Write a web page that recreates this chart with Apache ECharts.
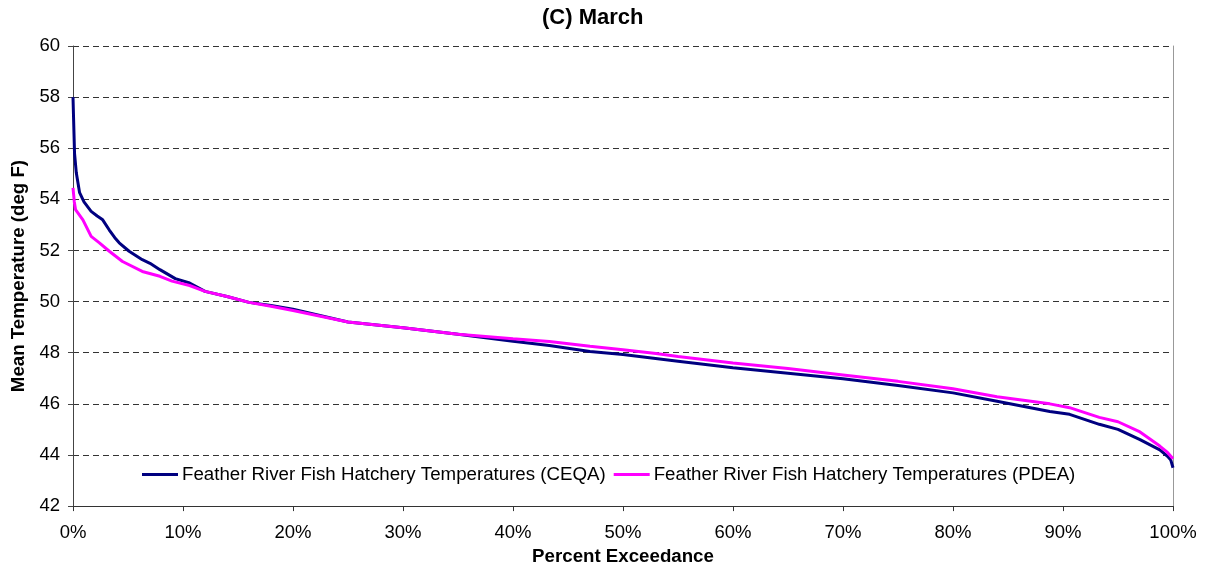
<!DOCTYPE html>
<html>
<head>
<meta charset="utf-8">
<script src="https://cdn.jsdelivr.net/npm/echarts@6/dist/echarts.min.js"></script>
<style>
    html, body { margin: 0; padding: 0; background: #fff; }
    #chart { width: 1206px; height: 571px; }
</style>
</head>
<body>
<div id="chart"></div>
<script>
// percent exceedance / mean temperature (deg F)
var ceqaPct = [0, 0.05, 0.14, 0.3, 0.6, 1.0, 1.65, 2.2, 2.7, 3.3, 3.8, 4.2, 5.1, 6.3, 7.0, 7.9, 9.3, 10.6, 12, 14, 16, 18, 20, 25, 30, 35, 40, 43.3, 47, 50, 55, 60, 65, 70, 75, 80, 84, 88.8, 90.6, 93.3, 95, 97, 98.8, 99.5, 99.8, 100];
var ceqaTemp = [58.0, 57.2, 55.8, 55.04, 54.26, 53.9, 53.53, 53.35, 53.2, 52.8, 52.5, 52.3, 51.97, 51.64, 51.5, 51.25, 50.9, 50.73, 50.4, 50.2, 49.97, 49.85, 49.7, 49.2, 48.98, 48.72, 48.45, 48.28, 48.05, 47.93, 47.67, 47.41, 47.2, 46.98, 46.72, 46.43, 46.1, 45.7, 45.59, 45.2, 45.0, 44.6, 44.2, 43.95, 43.8, 43.5];

var pdeaPct = [0, 0.05, 0.12, 0.23, 0.9, 1.65, 2.4, 3.3, 4.5, 6.3, 7.9, 9.0, 10.6, 12, 14, 16, 18, 20, 25, 30, 35, 40, 43.3, 47, 50, 53, 55, 60, 65, 70, 75, 80, 84, 88.8, 90.6, 93.3, 95, 97, 98.8, 99.5, 100];
var pdeaTemp = [54.45, 54.4, 53.9, 53.6, 53.2, 52.55, 52.3, 51.97, 51.57, 51.18, 50.99, 50.8, 50.63, 50.4, 50.2, 49.97, 49.82, 49.65, 49.2, 48.98, 48.72, 48.55, 48.44, 48.25, 48.12, 47.97, 47.85, 47.6, 47.38, 47.13, 46.88, 46.59, 46.28, 46.0, 45.85, 45.47, 45.3, 44.9, 44.35, 44.1, 43.85];

var seriesNames = ['Feather River Fish Hatchery Temperatures (CEQA)', 'Feather River Fish Hatchery Temperatures (PDEA)'];

function pairs(xs, ys) {
    var out = [];
    for (var i = 0; i < xs.length; i++) {
        out.push([xs[i], ys[i]]);
    }
    return out;
}

var font = 'Arial, "Liberation Sans", sans-serif';
var myChart = echarts.init(document.getElementById('chart'));
var option = {
    animation: false,
    backgroundColor: '#fff',
    title: {
        text: '(C) March',
        left: 537,
        top: 2,
        textStyle: { fontFamily: font, fontSize: 22, fontWeight: 'bold', color: '#000' }
    },
    legend: {
        data: seriesNames,
        left: 137,
        top: 460,
        itemWidth: 36,
        itemHeight: 3,
        itemGap: 8,
        icon: 'rect',
        textStyle: { fontFamily: font, fontSize: 18.7, color: '#000', padding: [0, 0, 0, -1] }
    },
    grid: { left: 73, right: 33, top: 46, bottom: 64 },
    xAxis: {
        type: 'value',
        min: 0,
        max: 100,
        interval: 10,
        name: 'Percent Exceedance',
        nameLocation: 'middle',
        nameGap: 30,
        nameTextStyle: { fontFamily: font, fontSize: 18.7, fontWeight: 'bold', color: '#000' },
        axisLine: { lineStyle: { color: '#333', width: 1 } },
        axisTick: { show: true, inside: false, length: 5, lineStyle: { color: '#333' } },
        axisLabel: { formatter: '{value}%', fontFamily: font, fontSize: 18.5, color: '#000', margin: 17 },
        splitLine: { show: false }
    },
    yAxis: [{
        type: 'value',
        min: 42,
        max: 60,
        interval: 2,
        name: 'Mean Temperature (deg F)',
        nameLocation: 'middle',
        nameRotate: 90,
        nameGap: 42,
        nameTextStyle: { fontFamily: font, fontSize: 18.7, fontWeight: 'bold', color: '#000' },
        axisLine: { show: true, lineStyle: { color: '#444', width: 1 } },
        axisTick: { show: true, inside: false, length: 5, lineStyle: { color: '#444' } },
        axisLabel: { fontFamily: font, fontSize: 18.5, color: '#000', margin: 13 },
        splitLine: { show: true, lineStyle: { type: [6, 4], color: '#333', width: 1 } }
    }, {
        type: 'value',
        min: 42,
        max: 60,
        position: 'right',
        axisLine: { show: true, lineStyle: { color: '#999', width: 1 } },
        axisTick: { show: false },
        axisLabel: { show: false },
        splitLine: { show: false }
    }],
    series: [{
        name: seriesNames[0],
        type: 'line',
        yAxisIndex: 0,
        data: pairs(ceqaPct, ceqaTemp),
        showSymbol: false,
        symbol: 'none',
        lineStyle: { color: '#000080', width: 3 },
        itemStyle: { color: '#000080' },
        z: 2
    }, {
        name: seriesNames[1],
        type: 'line',
        yAxisIndex: 0,
        data: pairs(pdeaPct, pdeaTemp),
        showSymbol: false,
        symbol: 'none',
        lineStyle: { color: '#ff00ff', width: 3 },
        itemStyle: { color: '#ff00ff' },
        z: 3
    }]
};
myChart.setOption(option, true);
</script>
</body>
</html>
